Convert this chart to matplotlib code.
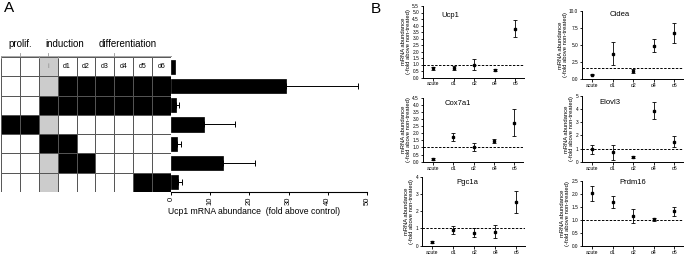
import matplotlib
matplotlib.use("Agg")
import matplotlib.pyplot as plt
from matplotlib.patches import Rectangle
import numpy as np

plt.rcParams['font.family'] = ['Liberation Sans', 'DejaVu Sans']

# ---------------- data ----------------
stage_labels = ['prolif.', 'induction', 'differentiation']
day_labels = ['i', 'd1', 'd2', 'd3', 'd4', 'd5', 'd6']
header_pattern = 'wwgwwwwww'
protocols = ['wwgkkkkkk', 'wwkkkkkkk', 'kkgwwwwww', 'wwkkwwwww', 'wwgkkwwww', 'wwgwwwwkk']
ucp1_fold = [1.0, 29.3, 1.3, 8.5, 1.5, 13.3, 1.8]
ucp1_err = [0.0, 18.5, 0.7, 7.8, 1.0, 8.1, 0.9]
a_xticks = [0, 10, 20, 30, 40, 50]

timepoints = ['acute', 'd1', 'd2', 'd4', 'd6']
genes = ['Ucp1', 'Cidea', 'Cox7a1', 'Elovl3', 'Pgc1a', 'Prdm16']
ucp1_mean = [0.7, 0.75, 1.0, 0.55, 3.75]
ucp1_sem = [0.12, 0.15, 0.4, 0.08, 0.65]
cidea_mean = [0.6, 3.7, 1.15, 4.9, 6.8]
cidea_sem = [0.1, 1.65, 0.3, 1.0, 1.5]
cox7a1_mean = [0.2, 1.75, 1.05, 1.45, 2.75]
cox7a1_sem = [0.05, 0.3, 0.3, 0.12, 0.93]
elovl3_mean = [0.95, 0.72, 0.36, 3.88, 1.52]
elovl3_sem = [0.35, 0.57, 0.05, 0.63, 0.43]
pgc1a_mean = [0.23, 0.91, 0.75, 0.8, 2.55]
pgc1a_sem = [0.05, 0.25, 0.25, 0.38, 0.65]
prdm16_mean = [2.01, 1.69, 1.15, 1.01, 1.33]
prdm16_sem = [0.3, 0.24, 0.27, 0.05, 0.17]
baselines = [1.0, 1.65, 1.0, 1.0, 1.0, 1.0]
yticks_list = [
    [0.0, 0.5, 1.0, 1.5, 2.0, 2.5, 3.0, 3.5, 4.0, 4.5, 5.0, 5.5],
    [0.0, 2.5, 5.0, 7.5, 10.0],
    [0.0, 0.5, 1.0, 1.5, 2.0, 2.5, 3.0, 3.5, 4.0, 4.5],
    [0, 1, 2, 3, 4, 5],
    [0, 1, 2, 3, 4],
    [0.0, 0.5, 1.0, 1.5, 2.0, 2.5],
]
ytick_fmt = ['%.1f', '%.1f', '%.1f', '%d', '%d', '%.1f']
means = [ucp1_mean, cidea_mean, cox7a1_mean, elovl3_mean, pgc1a_mean, prdm16_mean]
sems = [ucp1_sem, cidea_sem, cox7a1_sem, elovl3_sem, pgc1a_sem, prdm16_sem]

# ---------------- figure ----------------
W, H = 685, 254
fig = plt.figure(figsize=(W / 100, H / 100), dpi=100)


def add_ax(l, t, r, b):
    return fig.add_axes([l / W, 1 - b / H, (r - l) / W, (b - t) / H])


def fx(x):
    return x / W


def fy(y):
    return 1 - y / H


# Panel letters
fig.text(fx(4), fy(8), 'A', fontsize=11, va='center', ha='left')
fig.text(fx(371), fy(9), 'B', fontsize=11, va='center', ha='left')

# ---------------- Panel A: grid ----------------
gax = add_ax(1, 57, 171, 192)
gax.set_xlim(0, 9)
gax.set_ylim(7, 0)
gax.axis('off')
cmap = {'w': 'white', 'g': '#cccccc', 'k': 'black'}
edge = '#555555'
for c, ch in enumerate(header_pattern):
    gax.add_patch(Rectangle((c, 0), 1, 1, facecolor=cmap[ch], edgecolor=edge, lw=0.7))
for i, lab in enumerate(day_labels):
    col = 2 + i
    gax.text(col + 0.5, 0.5, lab, ha='center', va='center', fontsize=5,
             color='#888888' if lab == 'i' else 'black')
for r, pat in enumerate(protocols):
    for c, ch in enumerate(pat):
        gax.add_patch(Rectangle((c, r + 1), 1, 1, facecolor=cmap[ch], edgecolor=edge, lw=0.7))

# bracket
bc = '#999999'
gax.plot([0, 9], [-0.05, -0.05], color=bc, lw=0.6, clip_on=False)
for xb in [0.02, 2.0, 3.0, 8.98]:
    gax.plot([xb, xb], [-0.05, 0.05], color=bc, lw=0.6, clip_on=False)
for xt in [1.0, 2.5, 6.0]:
    gax.plot([xt, xt], [-0.05, -0.22], color=bc, lw=0.6, clip_on=False)
for lab, xc in zip(stage_labels, [20, 64.5, 128]):
    fig.text(fx(xc), fy(44), lab, ha='center', va='center', fontsize=7)

# ---------------- Panel A: bars ----------------
bax = add_ax(171, 57, 367, 192)
ypos = np.arange(len(ucp1_fold))
bax.barh(ypos, ucp1_fold, height=0.74, color='black', edgecolor='black', lw=0.5)
errs = np.array(ucp1_err)
mask = errs > 0
bax.errorbar(np.array(ucp1_fold)[mask], ypos[mask],
             xerr=[np.zeros(mask.sum()), errs[mask]],
             fmt='none', ecolor='black', elinewidth=0.7, capsize=2.2, capthick=0.7)
bax.set_xlim(0, 50)
bax.set_ylim(6.5, -0.5)
for s in ['top', 'right', 'left']:
    bax.spines[s].set_visible(False)
bax.spines['bottom'].set_linewidth(0.8)
bax.set_yticks([])
bax.set_xticks(a_xticks)
bax.set_xticklabels([str(v) for v in a_xticks], rotation=90, fontsize=5.5)
bax.tick_params(axis='x', length=2.5, width=0.7, pad=1)
fig.text(fx(168), fy(212), 'Ucp1 mRNA abundance  (fold above control)',
         ha='left', va='center', fontsize=6.2)

# ---------------- Panel B ----------------
boxes = [
    (423, 6, 524, 77.5),
    (582, 11, 683, 78.7),
    (423, 97.7, 523, 161.7),
    (582, 96, 683, 161.7),
    (422, 176.7, 525, 245.7),
    (582, 180.7, 683, 245.7),
]
title_pos = [(450, 15.5), (620, 15), (458, 104), (610, 102), (467, 183), (633, 183)]

for k, gene in enumerate(genes):
    l, t, r, b = boxes[k]
    ax = add_ax(l, t, r, b)
    xs = np.arange(len(timepoints))
    ax.errorbar(xs, means[k], yerr=sems[k], fmt='s', color='black', ms=2.0,
                elinewidth=0.6, capsize=1.4, capthick=0.6)
    ax.axhline(baselines[k], color='black', ls=(0, (2.5, 1.5)), lw=0.7)
    yt = yticks_list[k]
    ax.set_ylim(0, yt[-1])
    ax.set_yticks(yt)
    ax.set_yticklabels([ytick_fmt[k] % v for v in yt], fontsize=3.4)
    ax.set_xlim(-0.5, 4.42)
    ax.set_xticks(xs)
    ax.set_xticklabels(timepoints, fontsize=3.6)
    ax.tick_params(axis='both', length=1.8, width=0.6, pad=1)
    for s in ['top', 'right']:
        ax.spines[s].set_visible(False)
    for s in ['left', 'bottom']:
        ax.spines[s].set_linewidth(0.7)
    ax.set_ylabel('mRNA abundance\n(-fold above non-treated)', fontsize=4.2,
                  labelpad=1, linespacing=1.0)
    tx, ty = title_pos[k]
    fig.text(fx(tx), fy(ty), gene, ha='center', va='center', fontsize=5.5)

fig.savefig('out.png', dpi=100)
